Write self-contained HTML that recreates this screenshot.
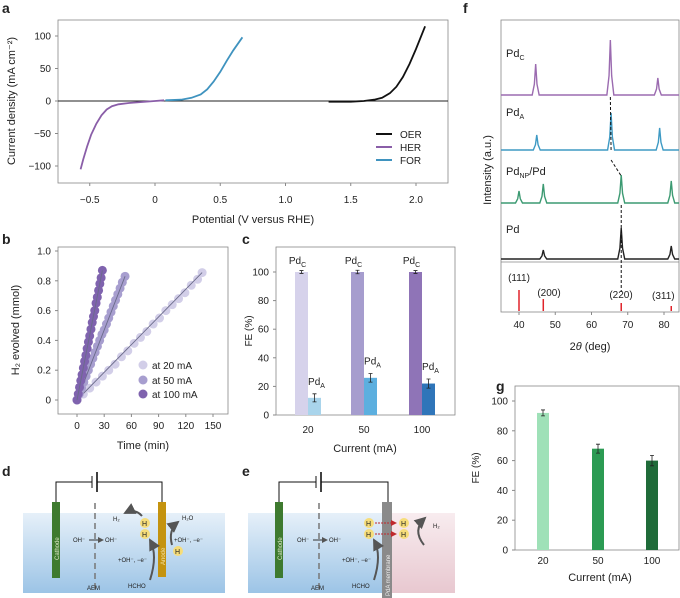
<!DOCTYPE html>
<html><head><meta charset="utf-8"><style>
html,body{margin:0;padding:0;background:#fff;}
svg{display:block;font-family:"Liberation Sans",sans-serif;}
text{fill:#222;}
</style></head><body>
<svg id="fig" width="680" height="598" viewBox="0 0 680 598" xmlns="http://www.w3.org/2000/svg">
<defs>
<linearGradient id="water" x1="0" y1="0" x2="0" y2="1"><stop offset="0" stop-color="#e6f0f9"/><stop offset="1" stop-color="#9cc4e6"/></linearGradient>
<linearGradient id="pink" x1="0" y1="0" x2="0" y2="1"><stop offset="0" stop-color="#f8ecef"/><stop offset="1" stop-color="#e8c8d0"/></linearGradient>
<marker id="arr" markerWidth="6" markerHeight="6" refX="5" refY="3" orient="auto"><path d="M0,0 L6,3 L0,6 z" fill="#555"/></marker>
<marker id="arrr" markerWidth="6" markerHeight="6" refX="5" refY="3" orient="auto"><path d="M0,0 L6,3 L0,6 z" fill="#c0282d"/></marker>
</defs>
<g id="pa"></g>
<g id="pb"></g>
<g id="pc"></g>
<g id="pf"></g>
<g id="pg"></g>

<!-- panel d -->
<g>
<text x="2" y="476" font-size="14" font-weight="bold">d</text>
<rect x="23" y="513" width="202" height="80" fill="url(#water)"/>
<path d="M56,503 V482 H92 M97,482 H162 V503" fill="none" stroke="#111" stroke-width="1"/>
<line x1="92" y1="476" x2="92" y2="488" stroke="#111" stroke-width="1"/><line x1="97" y1="472" x2="97" y2="492" stroke="#111" stroke-width="1.6"/>
<rect x="52" y="502" width="8" height="76" fill="#3e7a2f"/>
<text transform="translate(59,560) rotate(-90)" font-size="6" style="fill:#dfe9c9">Cathode</text>
<line x1="95" y1="503" x2="95" y2="592" stroke="#777" stroke-width="1.5" stroke-dasharray="6,4"/>
<text x="87" y="590" font-size="6">AEM</text>
<text x="73" y="542" font-size="6">OH⁻</text>
<line x1="89" y1="540" x2="103" y2="540" stroke="#333" marker-end="url(#arr)"/>
<text x="105" y="542" font-size="6">OH⁻</text>
<rect x="158" y="502" width="8" height="75" fill="#c4930f"/>
<text transform="translate(165,565) rotate(-90)" font-size="6" style="fill:#f5e3a5">Anode</text>
<circle cx="145" cy="523" r="5" fill="#f6dd7a"/><text x="142" y="526" font-size="7">H</text>
<circle cx="145" cy="534" r="5" fill="#f6dd7a"/><text x="142" y="537" font-size="7">H</text>
<circle cx="178" cy="551" r="5" fill="#f6dd7a"/><text x="175" y="554" font-size="7">H</text>
<text x="113" y="521" font-size="6">H₂</text>
<path d="M142,516 Q135,508 125,513" fill="none" stroke="#555" stroke-width="2" marker-end="url(#arr)"/>
<text x="182" y="520" font-size="6">H₂O</text>
<path d="M172,545 Q168,530 178,522" fill="none" stroke="#555" stroke-width="2" marker-end="url(#arr)"/>
<text x="174" y="542" font-size="6">+OH⁻, −e⁻</text>
<text x="118" y="562" font-size="6">+OH⁻, −e⁻</text>
<path d="M150,580 Q158,555 150,540" fill="none" stroke="#555" stroke-width="2" marker-end="url(#arr)"/>
<text x="128" y="588" font-size="6">HCHO</text>
</g>

<!-- panel e -->
<g>
<text x="242" y="476" font-size="14" font-weight="bold">e</text>
<rect x="248" y="513" width="136" height="80" fill="url(#water)"/>
<rect x="384" y="513" width="71" height="80" fill="url(#pink)"/>
<path d="M279,503 V482 H316 M321,482 H388 V503" fill="none" stroke="#111" stroke-width="1"/>
<line x1="316" y1="476" x2="316" y2="488" stroke="#111"/><line x1="321" y1="472" x2="321" y2="492" stroke="#111" stroke-width="1.6"/>
<rect x="275" y="502" width="8" height="76" fill="#3e7a2f"/>
<text transform="translate(282,560) rotate(-90)" font-size="6" style="fill:#dfe9c9">Cathode</text>
<line x1="319" y1="503" x2="319" y2="592" stroke="#777" stroke-width="1.5" stroke-dasharray="6,4"/>
<text x="311" y="590" font-size="6">AEM</text>
<text x="297" y="542" font-size="6">OH⁻</text>
<line x1="313" y1="540" x2="327" y2="540" stroke="#333" marker-end="url(#arr)"/>
<text x="329" y="542" font-size="6">OH⁻</text>
<rect x="382" y="502" width="10" height="96" fill="#8a8a8a"/>
<text transform="translate(390,596) rotate(-90)" font-size="6" style="fill:#eee">PdA membrane</text>
<circle cx="369" cy="523" r="5" fill="#f6dd7a"/><text x="366" y="526" font-size="7">H</text>
<circle cx="369" cy="534" r="5" fill="#f6dd7a"/><text x="366" y="537" font-size="7">H</text>
<circle cx="404" cy="523" r="5" fill="#f6dd7a"/><text x="401" y="526" font-size="7">H</text>
<circle cx="404" cy="534" r="5" fill="#f6dd7a"/><text x="401" y="537" font-size="7">H</text>
<line x1="375" y1="523" x2="396" y2="523" stroke="#c0282d" stroke-dasharray="2,1" marker-end="url(#arrr)"/>
<line x1="375" y1="534" x2="396" y2="534" stroke="#c0282d" stroke-dasharray="2,1" marker-end="url(#arrr)"/>
<path d="M424,545 Q412,530 425,518" fill="none" stroke="#555" stroke-width="2" marker-end="url(#arr)"/>
<text x="433" y="528" font-size="6">H₂</text>
<text x="342" y="562" font-size="6">+OH⁻, −e⁻</text>
<path d="M374,580 Q382,555 374,540" fill="none" stroke="#555" stroke-width="2" marker-end="url(#arr)"/>
<text x="352" y="588" font-size="6">HCHO</text>
</g>
</svg>
<script>
// ---------- Panel a data ----------
const herV = [-0.57,-0.55,-0.52,-0.49,-0.45,-0.41,-0.37,-0.33,-0.28,-0.2,-0.1,0,0.07];
const herJ = [-105,-90,-70,-52,-35,-22,-13,-8,-5,-3,-1.5,0,1];
const forV = [0.08,0.2,0.28,0.35,0.4,0.45,0.5,0.55,0.6,0.67];
const forJ = [1,2,5,10,18,30,45,62,78,98];
const oerV = [1.33,1.5,1.6,1.68,1.74,1.8,1.85,1.9,1.95,2.0,2.07];
const oerJ = [-1,-1,0,2,5,12,22,37,57,80,115];
const aXTicks = [-0.5,0,0.5,1.0,1.5,2.0];
const aXLabels = ["−0.5","0","0.5","1.0","1.5","2.0"];
const aYTicks = [-100,-50,0,50,100];
const aYLabels = ["−100","−50","0","50","100"];
// ---------- Panel b data ----------
const t20 = [0,7,14,21,28,35,42,49,56,63,70,77,84,91,98,105,112,119,126,133,138];
const v20 = [0,0.04,0.08,0.12,0.16,0.2,0.24,0.29,0.33,0.38,0.42,0.46,0.51,0.55,0.6,0.64,0.68,0.72,0.77,0.81,0.855];
const t50 = [0,2.5,5,7.5,10,12.5,15,17.5,20,22.5,25,27.5,30,32.5,35,37.5,40,42.5,45,47.5,50,53];
const v50 = [0,0.04,0.08,0.12,0.16,0.2,0.24,0.28,0.32,0.36,0.4,0.44,0.47,0.51,0.55,0.59,0.63,0.67,0.71,0.75,0.79,0.83];
const t100 = [0,1.4,2.8,4.2,5.6,7,8.4,9.8,11.2,12.6,14,15.4,16.8,18.2,19.6,21,22.4,23.8,25.2,26.6,28];
const v100 = [0,0.04,0.085,0.13,0.17,0.215,0.26,0.3,0.345,0.39,0.43,0.475,0.52,0.56,0.6,0.65,0.69,0.735,0.78,0.82,0.87];
const bXTicks = [0,30,60,90,120,150];
const bYTicks = [0,0.2,0.4,0.6,0.8,1.0];
const bYLabels = ["0","0.2","0.4","0.6","0.8","1.0"];
// ---------- Panel c data ----------
const cCats = ["20","50","100"];
const cPdC = [100,100,100];
const cPdCErr = [1,1.2,1];
const cPdA = [12,26,22];
const cPdAErr = [2.8,3,3.2];
const cYTicks = [0,20,40,60,80,100];
// ---------- Panel f data ----------
const fXTicks = [40,50,60,70,80];
const pdcPeaks = [44.6,65.2,78.3]; const pdcH = [31,55,17];
const pdaPeaks = [44.9,65.4,78.8]; const pdaH = [15,37,22];
const npPeaks = [40,46.7,68.2,82]; const npH = [12,19,28,22];
const pdPeaks = [46.7,68.2,82]; const pdH = [9,31,13];
const refPos = [40,46.7,68.2,82]; const refH = [21,12,8,5];
const refLabels = ["(111)","(200)","(220)","(311)"];
// ---------- Panel g data ----------
const gCats = ["20","50","100"];
const gVals = [92,68,60];
const gErr = [2,3,3.5];
const gYTicks = [0,20,40,60,80,100];

const NS="http://www.w3.org/2000/svg";
function mk(parent,tag,attrs,txt){const e=document.createElementNS(NS,tag);for(const k in attrs)e.setAttribute(k,attrs[k]);if(txt!==undefined)e.textContent=txt;parent.appendChild(e);return e;}
function lin(d0,d1,r0,r1){return v=>r0+(v-d0)*(r1-r0)/(d1-d0);}
function path(xs,ys,fx,fy){return xs.map((v,i)=>(i?"L":"M")+fx(v).toFixed(1)+","+fy(ys[i]).toFixed(1)).join("");}

// ===== Panel a =====
(function(){
const g=document.getElementById('pa');
const x=lin(0,2,155,416), y=lin(0,100,101,36);
let t=mk(g,'text',{x:2,y:13,'font-size':14,'font-weight':'bold'},'a');


const box=mk(g,'rect',{x:58,y:20,width:390,height:163,fill:'none',stroke:'#888','stroke-width':0.8});


aXTicks.forEach((v,i)=>{mk(g,'line',{x1:x(v),x2:x(v),y1:183,y2:186,stroke:'#888'});
 const l=mk(g,'text',{x:x(v),y:203,'font-size':10,'text-anchor':'middle'},aXLabels[i]);
 
 });
aYTicks.forEach((v,i)=>{mk(g,'line',{x1:55,x2:58,y1:y(v),y2:y(v),stroke:'#888'});
 const l=mk(g,'text',{x:51,y:y(v)+3.5,'font-size':10,'text-anchor':'end'},aYLabels[i]);
 
 });
mk(g,'line',{x1:58,x2:448,y1:y(0),y2:y(0),stroke:'#222','stroke-width':0.9});
let xt=mk(g,'text',{x:253,y:223,'font-size':11,'text-anchor':'middle'},'Potential (V versus RHE)');


let yt=mk(g,'text',{transform:'translate(15,101) rotate(-90)','font-size':11,'text-anchor':'middle'},'Current density (mA cm⁻²)');


const series=[[herV,herJ,'#8a5ea8','her-curve'],[forV,forJ,'#3f93bf','for-curve'],[oerV,oerJ,'#111','oer-curve']];
series.forEach(s=>{const p=mk(g,'path',{d:path(s[0],s[1],x,y),fill:'none',stroke:s[2],'stroke-width':1.8});
 
 });
[['OER','#111',134],['HER','#8a5ea8',147],['FOR','#3f93bf',160]].forEach(e=>{
 const le=mk(g,'g',{});
 
 
 mk(le,'line',{x1:376,x2:392,y1:e[2],y2:e[2],stroke:e[1],'stroke-width':2});
 mk(le,'text',{x:400,y:e[2]+4,'font-size':10},e[0]);});
})();

// ===== Panel b =====
(function(){
const g=document.getElementById('pb');
const x=lin(0,150,77,213), y=lin(0,1,400,251);
let t=mk(g,'text',{x:2,y:244,'font-size':14,'font-weight':'bold'},'b');


const box=mk(g,'rect',{x:58,y:247,width:170,height:167,fill:'none',stroke:'#888','stroke-width':0.8});


bXTicks.forEach(v=>{mk(g,'line',{x1:x(v),x2:x(v),y1:414,y2:417,stroke:'#888'});
 const l=mk(g,'text',{x:x(v),y:429,'font-size':10,'text-anchor':'middle'},String(v));
 
 });
bYTicks.forEach((v,i)=>{mk(g,'line',{x1:55,x2:58,y1:y(v),y2:y(v),stroke:'#888'});
 const l=mk(g,'text',{x:51,y:y(v)+3.5,'font-size':10,'text-anchor':'end'},bYLabels[i]);
 
 });
let xt=mk(g,'text',{x:143,y:449,'font-size':11,'text-anchor':'middle'},'Time (min)');


let yt=mk(g,'text',{transform:'translate(19,330) rotate(-90)','font-size':11,'text-anchor':'middle'},'H₂ evolved (mmol)');


const ser=[[t20,v20,'#d2cee8','series-20ma'],[t50,v50,'#a79ecf','series-50ma'],[t100,v100,'#7f63ae','series-100ma']];
ser.forEach(s=>{const sg=mk(g,'g',{});
 
 
 s[0].forEach((tv,i)=>{const c=mk(sg,'circle',{cx:x(tv),cy:y(s[1][i]),r:4.5,fill:s[2]});
  
  });
 const n=s[0].length-1;
 mk(sg,'line',{x1:x(s[0][0]),y1:y(s[1][0]),x2:x(s[0][n]),y2:y(s[1][n]),stroke:'#6b6b8a','stroke-width':0.9});});
[['at 20 mA','#d2cee8',365],['at 50 mA','#a79ecf',380],['at 100 mA','#7f63ae',394]].forEach(e=>{
 const le=mk(g,'g',{});
 
 
 mk(le,'circle',{cx:143,cy:e[2],r:4.5,fill:e[1]});
 mk(le,'text',{x:152,y:e[2]+4,'font-size':10},e[0]);});
})();

// ===== Panel c =====
(function(){
const g=document.getElementById('pc');
const y=lin(0,100,415,272); const cx=[308,364,422]; const bw=13;
let t=mk(g,'text',{x:242,y:244,'font-size':14,'font-weight':'bold'},'c');


const box=mk(g,'rect',{x:276,y:247,width:179,height:168,fill:'none',stroke:'#888','stroke-width':0.8});


cYTicks.forEach(v=>{mk(g,'line',{x1:273,x2:276,y1:y(v),y2:y(v),stroke:'#888'});
 const l=mk(g,'text',{x:269,y:y(v)+3.5,'font-size':10,'text-anchor':'end'},String(v));
 
 });
const cC=['#d6d2eb','#a69dce','#8f74b7'], cA=['#a9d4eb','#5cafdf','#2f75b9'];
cCats.forEach((c,i)=>{
 const l=mk(g,'text',{x:cx[i],y:433,'font-size':10,'text-anchor':'middle'},c);
 
 
 const b1=mk(g,'rect',{x:cx[i]-bw,y:y(cPdC[i]),width:bw,height:415-y(cPdC[i]),fill:cC[i]});
 
 
 const b2=mk(g,'rect',{x:cx[i],y:y(cPdA[i]),width:bw,height:415-y(cPdA[i]),fill:cA[i]});
 
 
 [[cx[i]-bw/2,cPdC[i],cPdCErr[i]],[cx[i]+bw/2,cPdA[i],cPdAErr[i]]].forEach(e=>{
  const eg=mk(g,'path',{d:`M${e[0]},${y(e[1]+e[2])}V${y(e[1]-e[2])}M${e[0]-2},${y(e[1]+e[2])}h4M${e[0]-2},${y(e[1]-e[2])}h4`,stroke:'#222','stroke-width':0.8,fill:'none'});
  
  });
 const l1=mk(g,'text',{x:cx[i]-bw/2-4,y:y(cPdC[i])-8,'font-size':10,'text-anchor':'middle'});
 l1.innerHTML='Pd<tspan font-size="7" dy="3">C</tspan>';
 
 
 const l2=mk(g,'text',{x:cx[i]+bw/2+2,y:y(cPdA[i]+cPdAErr[i])-9,'font-size':10,'text-anchor':'middle'});
 l2.innerHTML='Pd<tspan font-size="7" dy="3">A</tspan>';
 
 
});
let xt=mk(g,'text',{x:365,y:452,'font-size':11,'text-anchor':'middle'},'Current (mA)');


let yt=mk(g,'text',{transform:'translate(252,331) rotate(-90)','font-size':10,'text-anchor':'middle'},'FE (%)');


})();

// ===== Panel f =====
(function(){
const g=document.getElementById('pf');
const x=lin(40,80,519,664);
let t=mk(g,'text',{x:463,y:13,'font-size':14,'font-weight':'bold'},'f');


const box=mk(g,'rect',{x:501,y:20,width:178,height:292,fill:'none',stroke:'#888','stroke-width':0.8});


mk(g,'line',{x1:501,x2:679,y1:262,y2:262,stroke:'#888','stroke-width':0.8});
fXTicks.forEach(v=>{mk(g,'line',{x1:x(v),x2:x(v),y1:312,y2:315,stroke:'#888'});
 const l=mk(g,'text',{x:x(v),y:328,'font-size':10,'text-anchor':'middle'},String(v));
 
 });
let xt=mk(g,'text',{x:590,y:350,'font-size':11,'text-anchor':'middle'});
xt.innerHTML='2<tspan font-style="italic">θ</tspan> (deg)';


let yt=mk(g,'text',{transform:'translate(491,170) rotate(-90)','font-size':11,'text-anchor':'middle'},'Intensity (a.u.)');


function trace(peaks,hs,base,color,name){
 let d='M501,'+base; const w=0.6;
 peaks.forEach((p,i)=>{d+=`L${x(p-w*1.6)},${base}L${x(p-w*0.6)},${base-hs[i]*0.35}L${x(p)},${base-hs[i]}L${x(p+w*0.6)},${base-hs[i]*0.35}L${x(p+w*1.6)},${base}`;});
 d+='L679,'+base;
 const pth=mk(g,'path',{d:d,fill:'none',stroke:color,'stroke-width':1.4});
 
 }
trace(pdcPeaks,pdcH,95,'#9b6bb0','trace-pdc');
trace(pdaPeaks,pdaH,150,'#3e9ac4','trace-pda');
trace(npPeaks,npH,203,'#3c9a72','trace-pdnp-pd');
trace(pdPeaks,pdH,259,'#222','trace-pd');
const dl=mk(g,'path',{d:`M${x(65.2)},97L${x(65.4)},150M${x(65.4)},160L${x(68.2)},176M${x(68.2)},205L${x(68.2)},292`,stroke:'#111','stroke-dasharray':'3,2',fill:'none','stroke-width':1});


[['Pd','C',57],['Pd','A',116],['Pd','NP',175],['Pd','',233]].forEach((l,i)=>{
 const te=mk(g,'text',{x:506,y:l[2],'font-size':11});
 te.innerHTML=l[1]?(l[0]+'<tspan font-size="7" dy="3">'+l[1]+'</tspan>'+(l[1]==='NP'?'<tspan dy="-3">/Pd</tspan>':'')):l[0];
 
 });
const lx=[519,549,621,652], ly=[281,296,298,299];
refPos.forEach((p,i)=>{const r=mk(g,'line',{x1:x(p),x2:x(p),y1:311,y2:311-refH[i],stroke:'#e0232a','stroke-width':1.5});
 
 
 const l=mk(g,'text',{x:lx[i],y:ly[i],'font-size':10,'text-anchor':i==3?'start':'middle'},refLabels[i]);
 
 });
})();

// ===== Panel g =====
(function(){
const g=document.getElementById('pg');
const y=lin(0,100,550,401); const cx=[543,598,652]; const bw=12;
let t=mk(g,'text',{x:496,y:391,'font-size':14,'font-weight':'bold'},'g');


const box=mk(g,'rect',{x:515,y:386,width:164,height:164,fill:'none',stroke:'#888','stroke-width':0.8});


gYTicks.forEach(v=>{mk(g,'line',{x1:512,x2:515,y1:y(v),y2:y(v),stroke:'#888'});
 const l=mk(g,'text',{x:508,y:y(v)+3.5,'font-size':10,'text-anchor':'end'},String(v));
 
 });
const col=['#9fe1b8','#2b9b53','#1f6b39'];
gCats.forEach((c,i)=>{
 const l=mk(g,'text',{x:cx[i],y:564,'font-size':10,'text-anchor':'middle'},c);
 
 
 const b=mk(g,'rect',{x:cx[i]-bw/2,y:y(gVals[i]),width:bw,height:550-y(gVals[i]),fill:col[i]});
 
 
 const e=mk(g,'path',{d:`M${cx[i]},${y(gVals[i]+gErr[i])}V${y(gVals[i]-gErr[i])}M${cx[i]-2},${y(gVals[i]+gErr[i])}h4M${cx[i]-2},${y(gVals[i]-gErr[i])}h4`,stroke:'#222','stroke-width':0.8,fill:'none'});
 
 });
let xt=mk(g,'text',{x:600,y:581,'font-size':11,'text-anchor':'middle'},'Current (mA)');


let yt=mk(g,'text',{transform:'translate(479,468) rotate(-90)','font-size':10,'text-anchor':'middle'},'FE (%)');


})();
</script>
</body></html>
